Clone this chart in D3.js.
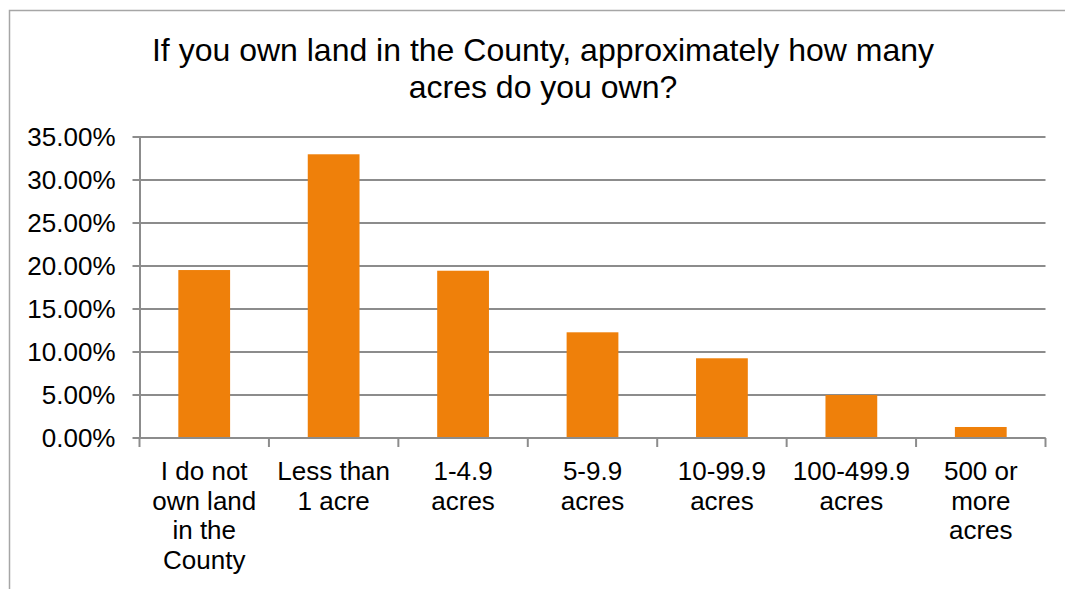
<!DOCTYPE html>
<html>
<head>
<meta charset="utf-8">
<script src="https://cdn.jsdelivr.net/npm/d3@7/dist/d3.min.js"></script>
<style>
  html, body { margin: 0; padding: 0; background: #fff; }
  svg { display: block; }
  text { font-family: "Liberation Sans", Arial, sans-serif; fill: #000; }
</style>
</head>
<body>
<script>
const categories = [
  "I do not\nown land\nin the\nCounty",
  "Less than\n1 acre",
  "1-4.9\nacres",
  "5-9.9\nacres",
  "10-99.9\nacres",
  "100-499.9\nacres",
  "500 or\nmore\nacres"
];
const values = [0.1953, 0.3299, 0.1945, 0.1229, 0.0927, 0.0500, 0.0128];
const yTicks = [0, 0.05, 0.10, 0.15, 0.20, 0.25, 0.30, 0.35];
const titleLines = ["If you own land in the County, approximately how many", "acres do you own?"];

const W = 1065, H = 589;
const svg = d3.select("body").append("svg").attr("width", W).attr("height", H);

// chart frame (cropped: only left and top edges visible)
svg.append("path")
  .attr("d", `M9.5,${H} V10.5 H${W}`)
  .attr("fill", "none").attr("stroke", "#a6a6a6").attr("stroke-width", 1.5);

const plot = { left: 139.5, right: 1045.5, top: 137, bottom: 438 };

const x = d3.scaleBand().domain(d3.range(categories.length))
  .range([plot.left, plot.right]).paddingInner(0.6).paddingOuter(0.3);
const y = d3.scaleLinear().domain([0, 0.35]).range([plot.bottom, plot.top]);

const gridColor = "#8c8c8c";

// gridlines
svg.append("g").selectAll("line").data(yTicks).join("line")
  .attr("x1", plot.left - 7).attr("x2", plot.right)
  .attr("y1", d => y(d)).attr("y2", d => y(d))
  .attr("stroke", gridColor).attr("stroke-width", 2);

// y axis
const yAxis = d3.axisLeft(y).tickValues(yTicks).tickSize(0).tickPadding(24)
  .tickFormat(d => d3.format(".2f")(d * 100) + "%");
const gy = svg.append("g").attr("transform", `translate(${plot.left},0)`).call(yAxis);
gy.select(".domain").attr("stroke", gridColor).attr("stroke-width", 2);
gy.selectAll("text").style("font-size", "26px").attr("fill", "#000")
  .style("font-family", "'Liberation Sans', Arial, sans-serif");

// bars
svg.append("g").selectAll("rect").data(values).join("rect")
  .attr("x", (d, i) => x(i)).attr("width", x.bandwidth())
  .attr("y", d => y(d)).attr("height", d => y(0) - y(d))
  .attr("fill", "#ef800a");

// x axis baseline + ticks at band boundaries
const step = x.step();
const boundaries = d3.range(categories.length + 1).map(i => plot.left + i * step);
svg.append("line").attr("x1", plot.left).attr("x2", plot.right)
  .attr("y1", plot.bottom).attr("y2", plot.bottom)
  .attr("stroke", gridColor).attr("stroke-width", 2);
svg.append("g").selectAll("line").data(boundaries).join("line")
  .attr("x1", d => d).attr("x2", d => d)
  .attr("y1", plot.bottom).attr("y2", plot.bottom + 9)
  .attr("stroke", gridColor).attr("stroke-width", 2);

// x labels
const xl = svg.append("g").selectAll("text").data(categories).join("text")
  .attr("text-anchor", "middle")
  .attr("transform", (d, i) => `translate(${x(i) + x.bandwidth() / 2},480)`)
  .style("font-size", "26px");
xl.selectAll("tspan").data(d => d.split("\n")).join("tspan")
  .attr("x", 0).attr("y", (d, i) => i * 29.5).text(d => d);

// title
svg.append("g").selectAll("text").data(titleLines).join("text")
  .attr("x", 543).attr("y", (d, i) => 61 + i * 37)
  .attr("text-anchor", "middle").style("font-size", "32px")
  .text(d => d);
</script>
</body>
</html>
